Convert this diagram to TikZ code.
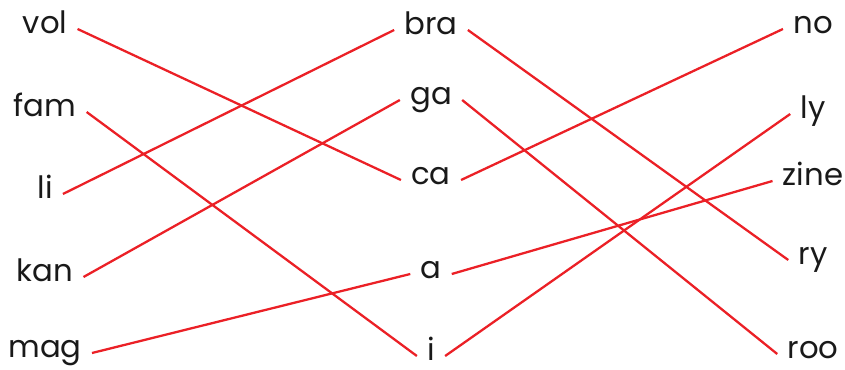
\documentclass[tikz,border=0pt]{standalone}
\usepackage{fontspec}
\setmainfont{Poppins}
\usetikzlibrary{positioning}
\definecolor{linkred}{RGB}{235,32,38}

\begin{document}
\begin{tikzpicture}[
    word/.style={inner xsep=0.2cm, inner ysep=0pt,
                 text height=1ex, text depth=0pt,
                 font=\fontsize{17.5}{21}\selectfont, text=black!90},
    link/.style={draw=linkred, line width=1.3pt},
]
\useasboundingbox (0,0) rectangle (16.9,-7.4);

%% ─── Left column ────────────────────────────────────────────────────────────
\node[word] (vol) at (0.90,-0.58) {vol};
\node[word] (fam) at (0.90,-2.24) {fam};
\node[word] (li)  at (0.90,-3.88) {li};
\node[word] (kan) at (0.90,-5.54) {kan};
\node[word] (mag) at (0.90,-7.06) {mag};

%% ─── Middle column ──────────────────────────────────────────────────────────
\node[word] (bra) at (8.62,-0.60) {bra};
\node[word] (ga)  at (8.62,-2.00) {ga};
\node[word] (ca)  at (8.62,-3.60) {ca};
\node[word] (a)   at (8.62,-5.48) {a};
\node[word] (i)   at (8.62,-7.12) {i};

%% ─── Right column ───────────────────────────────────────────────────────────
\node[word] (no)   at (16.26,-0.58) {no};
\node[word] (ly)   at (16.26,-2.28) {ly};
\node[word] (zine) at (16.26,-3.62) {zine};
\node[word] (ry)   at (16.26,-5.20) {ry};
\node[word] (roo)  at (16.26,-7.08) {roo};

%% ─── Left → middle ──────────────────────────────────────────────────────────
\draw[link] (vol.east) -- (ca.west);
\draw[link] (fam.east) -- (i.west);
\draw[link] (li.east)  -- (bra.west);
\draw[link] (kan.east) -- (ga.west);
\draw[link] (mag.east) -- (a.west);

%% ─── Middle → right ─────────────────────────────────────────────────────────
\draw[link] (bra.east) -- (ry.west);
\draw[link] (ga.east)  -- (roo.west);
\draw[link] (ca.east)  -- (no.west);
\draw[link] (a.east)   -- (zine.west);
\draw[link] (i.east)   -- (ly.west);

\end{tikzpicture}
\end{document}
